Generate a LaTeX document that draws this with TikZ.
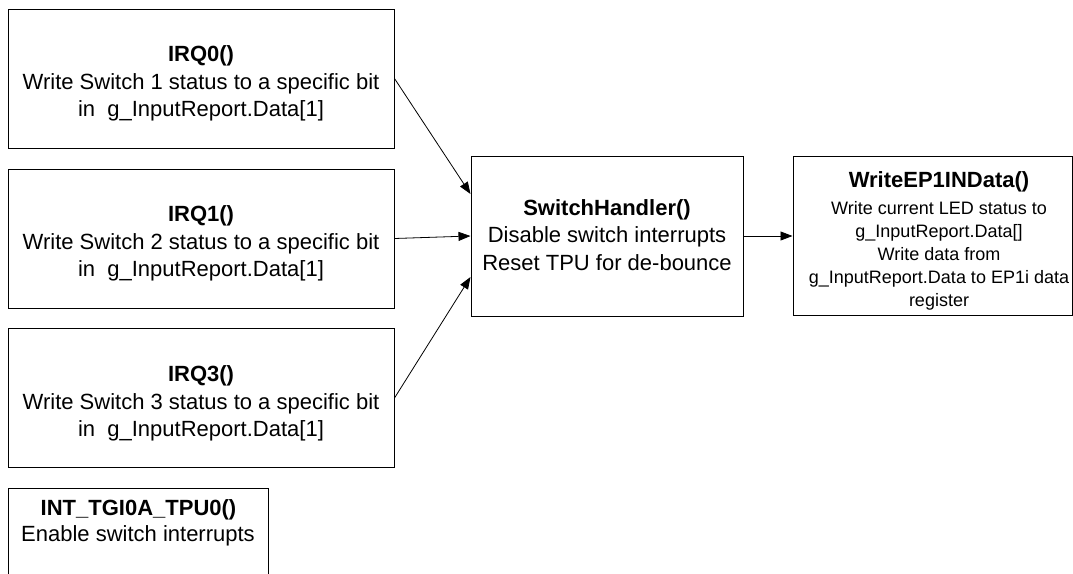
\documentclass[tikz,border=0pt]{standalone}
\usepackage{fontspec}
\setmainfont{Liberation Sans}
\usetikzlibrary{arrows.meta,calc}
\begin{document}
\begin{tikzpicture}[x=1pt,y=-1pt,
  box/.style={draw=black, line width=1pt, rectangle, inner sep=0pt, fill=white},
  txt/.style={align=center, inner sep=0pt, anchor=north, font=\fontsize{22}{27.5}\selectfont},
  ttl/.style={inner sep=0pt, anchor=base, font=\fontsize{22}{27.5}\selectfont\bfseries},
  small/.style={align=center, inner sep=0pt, anchor=north, font=\fontsize{18}{23}\selectfont},
  arr/.style={line width=0.8pt, -{Triangle[length=12pt,width=9pt]}}]
\useasboundingbox (0,0) rectangle (1073,573);

% boxes
\node[box, minimum width=386pt, minimum height=139pt] (irq0) at (201,78.5) {};
\node[box, minimum width=386pt, minimum height=139pt] (irq1) at (201,238.5) {};
\node[box, minimum width=386pt, minimum height=139pt] (irq3) at (201,398) {};
\node[box, minimum width=260pt, minimum height=100pt] (tgi) at (138,538) {};
\node[box, minimum width=272pt, minimum height=160pt] (sw) at (607,236) {};
\node[box, minimum width=279pt, minimum height=159pt] (wr) at (932.5,236) {};

% texts
\node[txt] (irq0t) at (201,45.5) {\textbf{IRQ0()}\\Write Switch 1 status to a specific bit\\in\ \ g\_InputReport.Data[1]};
\node[txt] (irq1t) at (201,205.5) {\textbf{IRQ1()}\\Write Switch 2 status to a specific bit\\in\ \ g\_InputReport.Data[1]};
\node[txt] (irq3t) at (201,365.5) {\textbf{IRQ3()}\\Write Switch 3 status to a specific bit\\in\ \ g\_InputReport.Data[1]};
\node[ttl] (tgit) at (138.5,515) {INT\_TGI0A\_TPU0()};
\node[inner sep=0pt, anchor=base, font=\fontsize{22}{27.5}\selectfont] (tgib) at (138,541) {Enable switch interrupts};
\node[txt] (swt) at (607,199) {\textbf{SwitchHandler()}\\Disable switch interrupts\\Reset TPU for de-bounce};
\node[ttl] (wrt) at (939,187) {WriteEP1INData()};
\node[small] (wrb) at (939,201) {Write current LED status to\\g\_InputReport.Data[]\\Write data from\\g\_InputReport.Data to EP1i data\\register};

% connectors
\coordinate (in0) at ($(sw.west)+(0,-42)$);
\coordinate (in1) at ($(sw.west)+(0,0)$);
\coordinate (in3) at ($(sw.west)+(0,41)$);
\draw[arr] (irq0.east) -- (in0);
\draw[arr] (irq1.east) -- (in1);
\draw[arr] (irq3.east) -- (in3);
\draw[arr] (sw.east) -- (wr.west);
\end{tikzpicture}
\end{document}
